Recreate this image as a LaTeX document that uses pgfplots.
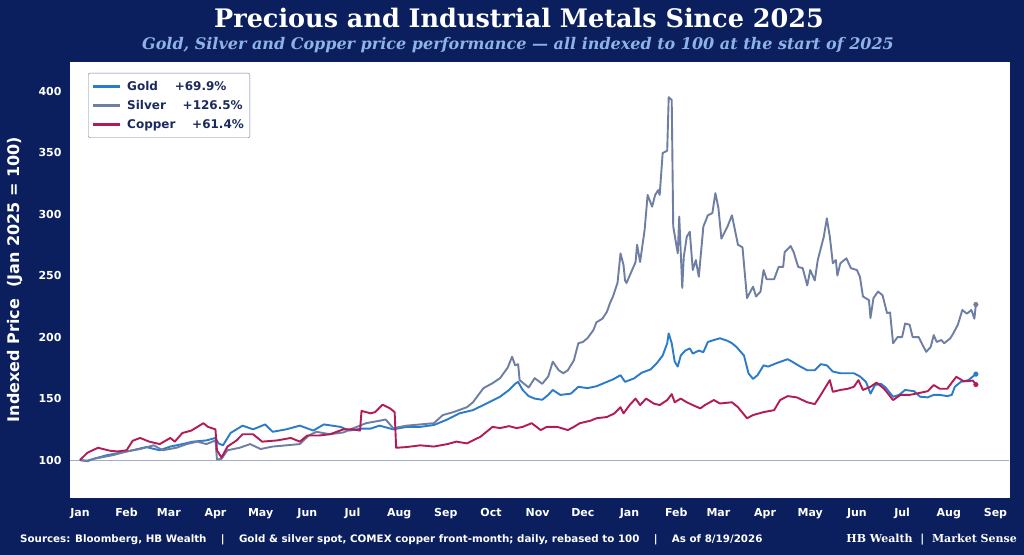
\documentclass[border=0pt]{standalone}
\usepackage{pgfplots}
\pgfplotsset{compat=1.18}
\usepackage{fontspec}
\setmainfont{DejaVu Sans}
\newfontfamily\serifb{DejaVu Serif}
\definecolor{navy}{HTML}{0B1F5E}
\definecolor{subcol}{HTML}{8FB3E6}
\definecolor{goldc}{HTML}{2B7BCB}
\definecolor{silverc}{HTML}{6E7FA3}
\definecolor{copperc}{HTML}{B31B57}
\definecolor{legtext}{HTML}{1B2A5E}
\definecolor{basec}{HTML}{A3ADC4}
\begin{document}
\begin{tikzpicture}
\fill[navy] (0bp,0bp) rectangle (1024bp,555bp);
\node[font=\serifb\bfseries\fontsize{25.5bp}{30bp}\selectfont, text=white, inner sep=0pt] at (519bp,537bp) {Precious and Industrial Metals Since 2025};
\node[font=\serifb\bfseries\itshape\fontsize{16bp}{19bp}\selectfont, text=subcol, inner sep=0pt] at (518bp,510bp) {Gold, Silver and Copper price performance — all indexed to 100 at the start of 2025};
\node[font=\bfseries\fontsize{10.3bp}{12bp}\selectfont, text=white, anchor=west, inner sep=0pt] at (20bp,15bp) {Sources: Bloomberg, HB Wealth \ \ \ | \ \ \ Gold \& silver spot, COMEX copper front-month; daily, rebased to 100 \ \ \ | \ \ \ As of 8/19/2026};
\node[font=\serifb\bfseries\fontsize{11bp}{13bp}\selectfont, text=white, anchor=east, inner sep=0pt] at (1017bp,15bp) {HB Wealth \ | \ Market Sense};
\begin{axis}[
  at={(70bp,58bp)}, anchor=south west,
  scale only axis, width=939bp, height=435bp,
  xmin=-6.6, xmax=617, ymin=70, ymax=423.6,
  axis background/.style={fill=white},
  axis line style={draw=white, line width=0.8bp},
  major tick length=0pt,
  xtick={0,31,59,90,120,151,181,212,243,273,304,334,365,396,424,455,485,516,546,577,608},
  xticklabels={Jan,Feb,Mar,Apr,May,Jun,Jul,Aug,Sep,Oct,Nov,Dec,Jan,Feb,Mar,Apr,May,Jun,Jul,Aug,Sep},
  ytick={100,150,200,250,300,350,400},
  /pgf/number format/assume math mode=true,
  ticklabel style={font=\bfseries\fontsize{11bp}{13bp}\selectfont, text=white},
  xticklabel style={yshift=-8bp},
  yticklabel style={xshift=-5bp},
  ylabel={Indexed Price \ (Jan 2025 = 100)},
  every axis y label/.style={at={(rel axis cs:0,0.5)}, xshift=-55bp, rotate=90, anchor=center, font=\bfseries\fontsize{16bp}{18bp}\selectfont, text=white},
  legend style={at={(rel axis cs:0,1)}, anchor=north west, xshift=18bp, yshift=-11bp, draw=silverc, rounded corners=2pt, fill=white, font=\bfseries\fontsize{12bp}{14bp}\selectfont, text=legtext, row sep=4.5bp, inner xsep=4bp, inner ysep=6bp},
  legend cell align=left,
  legend image code/.code={\draw[#1, line width=2.2bp] (0bp,0bp) -- (27bp,0bp); \path (31bp,0bp);},
  line join=round,
]
\addplot[basec, line width=0.9bp, forget plot] coordinates {(-7,100) (618,100)};
\addplot[goldc, line width=1.9bp] coordinates {
(0,100) (5,99.5) (9,101) (18,104) (27,106) (35,108) (44,110.6) (53,108) (60,111) (68,113) (75,115) (84,116) (90,118) (92,113.6) (95,112) (100,122) (108,128) (115,125) (123,129) (128,123) (137,125) (146,128) (155,124) (162,129) (173,127) (179,124) (187,125.6) (193,125.6) (199,128) (208,125) (217,127) (226,127) (235,128.5) (244,133) (252,138) (261,140.6) (270,146) (279,151.5) (285,157) (289,162) (291,163.6) (294,157) (298,152) (302,150) (307,149) (311,153) (314,157) (319,153) (326,154) (331,159.6) (337,158.5) (343,160) (350,163.6) (354,165.6) (359,169) (362,163.6) (368,166.4) (373,171) (379,173.7) (383,178.6) (387,185) (390,195) (391,203) (393,195) (395,180) (397,176) (399,185) (402,189) (405,190.8) (407,186.6) (411,189) (414,187.7) (417,196) (421,197.6) (425,199) (430,197) (433,195) (436,192) (441,185) (444,170.5) (447,166) (450,169) (454,177) (457,176) (463,179) (470,182) (473,180) (477,177) (483,173) (488,173) (492,178) (496,177) (500,172) (505,170.6) (510,170.6) (514,170.6) (518,168) (522,163.6) (525,154) (528,161) (532,162) (535,159) (540,151.5) (544,153) (548,157) (554,156) (558,151.5) (563,151) (567,153) (571,153) (576,152) (579,153) (581,159.6) (585,163.6) (590,165) (595,169.9)
};
\addlegendentry{Gold \ \ \ +69.9\%}
\addplot[silverc, line width=1.9bp] coordinates {
(0,100) (5,99) (9,101) (22,104) (31,107) (40,109) (49,112) (55,108) (64,110) (71,113) (78,115) (84,113) (90,116) (91,100.5) (94,101) (98,108) (106,110) (113,113) (120,109) (128,111) (137,112) (146,113) (152,120) (157,123) (166,121) (175,122.5) (181,125.6) (190,130) (199,132) (203,133) (208,126) (217,128) (226,129) (235,130) (241,136.6) (248,139) (257,143) (261,147) (268,158.5) (274,162.5) (279,166.6) (284,175) (287,184) (289,177) (291,178) (292,165) (298,159) (302,166.6) (307,162) (311,168) (314,180) (318,173) (321,170.6) (324,173) (328,181) (331,195) (334,196) (337,199) (341,205.7) (343,212) (347,215) (350,220.6) (352,227.6) (354,233) (357,244) (359,268) (361,258.5) (362,246) (363,244) (369,261) (370,275) (372,261) (375,287) (377,315.5) (380,306) (382,315.5) (384,319.5) (385,315.5) (387,349.6) (390,351.5) (391,395) (393,392.7) (394,290) (397,268) (398,298) (400,240) (401,265) (403,281.6) (405,285.6) (407,254.5) (409,262.6) (411,249) (414,289.7) (417,299) (420,300.8) (422,317) (424,305) (426,280) (430,289.7) (433,299) (437,275) (440,273) (443,231.7) (447,241) (449,233) (452,237) (454,254.5) (456,247) (461,247) (464,257) (467,257) (468,269) (472,274) (474,269) (477,257) (480,256) (483,242) (485,254.5) (488,246) (490,262.6) (494,281.6) (496,296.5) (498,281.6) (500,260) (502,262.6) (503,250) (505,260) (509,264) (512,256) (516,254.5) (518,249) (520,233) (524,230) (525,215.5) (527,231.7) (530,237) (533,234) (536,219.5) (538,220) (540,195) (543,200) (546,200) (548,211) (551,210) (553,200) (557,200) (559,195) (562,188) (565,192) (567,201.6) (569,196) (572,197.6) (574,195) (578,199) (580,203) (583,210) (586,222) (589,219) (592,222) (594,215) (595,226.5)
};
\addlegendentry{Silver \ \ \ +126.5\%}
\addplot[copperc, line width=1.9bp] coordinates {
(0,100) (5,106) (12,110) (20,107.6) (25,107) (31,108) (35,115.7) (40,118) (46,115) (53,113) (60,118) (63,115) (68,122) (74,124) (82,130) (85,127) (90,125) (91,108) (94,102) (98,111) (104,116) (108,121) (115,121) (121,115) (131,116) (140,118) (146,115) (151,120) (159,120) (166,121) (175,125) (181,125) (186,124) (187,140) (193,138) (196,139) (201,145) (206,142) (209,139) (210,110) (217,110.6) (226,112) (235,111) (244,113) (250,115) (257,113.6) (266,119) (274,127) (279,126) (285,127.6) (290,126) (294,127) (300,130) (306,124.4) (310,127) (317,127) (324,124.4) (328,127) (332,130) (339,132) (343,134) (350,135) (355,138) (359,143) (361,138) (365,144.7) (369,150) (372,144.7) (376,150) (381,146) (385,144.7) (390,148.8) (393,153.6) (395,147) (399,150) (403,147) (407,144.7) (412,142) (415,144.7) (421,148.8) (425,146) (433,147) (437,143) (443,134) (447,136.6) (454,139) (461,140.6) (465,148.8) (470,152) (476,151) (483,147) (488,145.5) (492,153) (496,161) (498,165) (500,155.5) (505,157) (510,158) (514,159.6) (517,165) (520,157) (525,159.6) (529,163) (534,158) (536,155) (540,148.8) (545,153) (551,153) (558,154.7) (563,156) (567,161) (571,158) (576,158) (579,163) (582,167.7) (587,164) (593,164.6) (595,161.4)
};
\addlegendentry{Copper \ \ \ +61.4\%}
\addplot[only marks, mark=*, mark size=2.3bp, goldc, forget plot] coordinates {(595,169.9)};
\addplot[only marks, mark=*, mark size=2.3bp, silverc, forget plot] coordinates {(595,226.5)};
\addplot[only marks, mark=*, mark size=2.3bp, copperc, forget plot] coordinates {(595,161.4)};
\end{axis}
\pgfresetboundingbox
\useasboundingbox (0bp,0bp) rectangle (1024bp,555bp);
\end{tikzpicture}
\end{document}
